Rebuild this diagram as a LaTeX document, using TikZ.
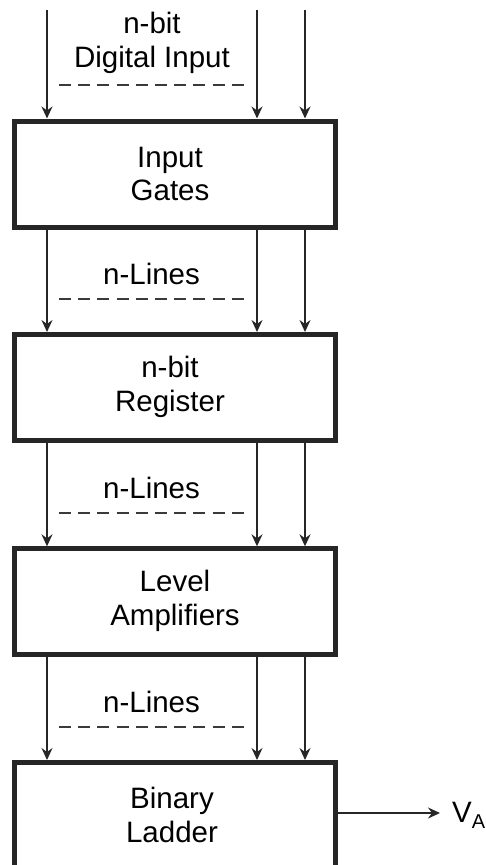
\documentclass[tikz,border=0pt]{standalone}
\usepackage{fontspec}
\setmainfont{Liberation Sans}
\usetikzlibrary{arrows.meta}
\definecolor{linec}{HTML}{262626}
\definecolor{dashc}{HTML}{3A3A3A}
\begin{document}
\begin{tikzpicture}[x=1pt,y=-1pt,
  blk/.style={draw=linec, line width=5pt, minimum width=321pt, minimum height=106pt, inner sep=0pt, outer sep=2.5pt},
  txt/.style={font=\fontsize{29.5}{33.5}\selectfont, align=center, inner sep=0pt},
  arr/.style={draw=linec, line width=1.6pt, -{Stealth[length=12pt,width=11pt,inset=4pt]}},
  dsh/.style={draw=dashc, line width=1.4pt, dash pattern=on 12pt off 7.2pt}]
\useasboundingbox (0,0) rectangle (485,865);
\clip (0,0) rectangle (485,865);

% blocks
\node[blk] (b1) at (175,174) {};
\node[blk] (b2) at (175,387.5) {};
\node[blk] (b3) at (175,601.8) {};
\node[blk] (b4) at (175,815.5) {};

% block texts
\node[txt] (t1) at (170,174) {Input\\Gates};
\node[txt] (t2) at (170,387) {n-bit\\Register};
\node[txt] (t3) at (175,601) {Level\\Amplifiers};
\node[txt] (t4) at (172,815) {Binary\\Ladder};

% input columns
\coordinate (c1) at (47,10);
\coordinate (c2) at (257,10);
\coordinate (c3) at (305,10);

% labels between blocks
\node[txt] (l0) at (152,43) {n-bit\\Digital Input};
\node[txt] (l1) at (151.5,274) {n-Lines};
\node[txt] (l2) at (151.5,488) {n-Lines};
\node[txt] (l3) at (151.5,702) {n-Lines};

% dashed lines
\coordinate (d0a) at (59,85);  \coordinate (d0b) at (248,85);
\coordinate (d1a) at (59,299); \coordinate (d1b) at (248,299);
\coordinate (d2a) at (59,513); \coordinate (d2b) at (248,513);
\coordinate (d3a) at (59,727); \coordinate (d3b) at (248,727);
\draw[dsh] (d0a) -- (d0b);
\draw[dsh] (d1a) -- (d1b);
\draw[dsh] (d2a) -- (d2b);
\draw[dsh] (d3a) -- (d3b);

% arrows
\foreach \c in {c1,c2,c3}{
  \draw[arr] (\c) -- (\c |- b1.north);
  \draw[arr] (b1.south -| \c) -- (b2.north -| \c);
  \draw[arr] (b2.south -| \c) -- (b3.north -| \c);
  \draw[arr] (b3.south -| \c) -- (b4.north -| \c);
}

% output
\coordinate (vtip) at (440,813);
\draw[arr] (b4.east |- vtip) -- (vtip);
\node[font=\fontsize{29.5}{33.5}\selectfont, inner sep=0pt, anchor=base west] (va) at (452,822)
  {V\raisebox{-6pt}{\fontsize{20}{20}\selectfont A}};
\end{tikzpicture}
\end{document}
